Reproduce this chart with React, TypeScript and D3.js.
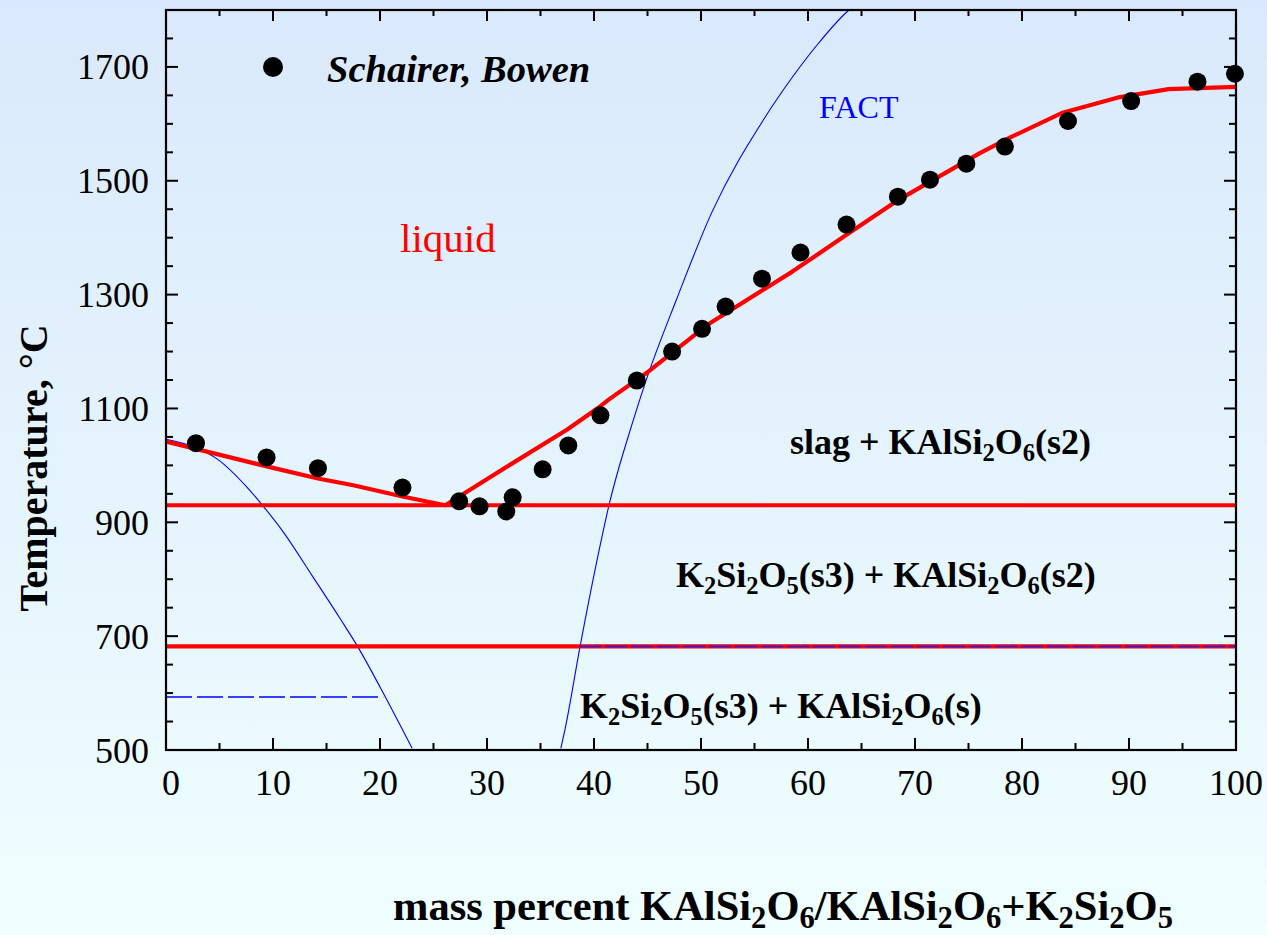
import React from "react";
import * as d3 from "d3";

// Experimental liquidus points (Schairer & Bowen): mass % KAlSi2O6, T in °C
const expX = [2.8, 9.4, 14.2, 22.1, 27.4, 29.3, 31.8, 32.4, 35.2, 37.6, 40.6, 44.0, 47.3, 50.1, 52.3, 55.7, 59.3, 63.6, 68.4, 71.4, 74.8, 78.4, 84.3, 90.2, 96.4, 99.9];
const expT = [1039, 1014, 995, 961, 937, 928, 919, 944, 993, 1035, 1088, 1149, 1200, 1240, 1279, 1328, 1374, 1423, 1472, 1502, 1530, 1560, 1605, 1640, 1674, 1688];

// Assessed liquidus (red)
const liqX = [0, 9.9, 14.2, 17.5, 22.2, 26.1, 32.4, 37.5, 40.6, 41.4, 45.1, 50.6, 58.5, 63.6, 68.5, 76.1, 79.0, 83.7, 88.9, 93.7, 100];
const liqT = [1042, 996, 977, 965, 945, 930, 1004, 1063, 1104, 1116, 1165, 1247, 1340, 1405, 1467, 1549, 1577, 1619, 1646, 1661, 1665];

// Invariant temperatures (red horizontals)
const eutecticT = 930;
const transitionT = 682;

// FACT calculation (blue)
const factLeftX = [0, 2.7, 4.8, 7.6, 9.1, 11.0, 13.7, 16.3, 17.9, 20.5, 23.0];
const factLeftT = [1046, 1032, 1011, 961, 928, 882, 805, 730, 682, 593, 503];
const factRightX = [36.9, 37.3, 38.7, 40.3, 41.4, 43.6, 44.9, 47.7, 51.0, 56.0, 58.5, 61.0, 63.6, 64.5];
const factRightT = [503, 537, 682, 835, 930, 1075, 1151, 1291, 1444, 1612, 1681, 1742, 1796, 1810];
const factDashLeft = { x0: 0, x1: 20.3, t: 593 };
const factDashRight = { x0: 38.6, x1: 100, t: transitionT };

const xMajor = [0, 10, 20, 30, 40, 50, 60, 70, 80, 90, 100];
const yMajor = [500, 700, 900, 1100, 1300, 1500, 1700];

type Seg = { t: string; sub?: boolean };
const kalsi2o6: Seg[] = [{ t: "KAlSi" }, { t: "2", sub: true }, { t: "O" }, { t: "6", sub: true }];
const k2si2o5: Seg[] = [{ t: "K" }, { t: "2", sub: true }, { t: "Si" }, { t: "2", sub: true }, { t: "O" }, { t: "5", sub: true }];

const regionLabels: { x: number; y: number; segs: Seg[] }[] = [
  { x: 790, y: 454, segs: [{ t: "slag + " }, ...kalsi2o6, { t: "(s2)" }] },
  { x: 676, y: 587, segs: [...k2si2o5, { t: "(s3) + " }, ...kalsi2o6, { t: "(s2)" }] },
  { x: 580, y: 718, segs: [...k2si2o5, { t: "(s3) + " }, ...kalsi2o6, { t: "(s)" }] },
];
const xTitle: Seg[] = [{ t: "mass percent " }, ...kalsi2o6, { t: "/" }, ...kalsi2o6, { t: "+" }, ...k2si2o5];

function Chem({ segs, x, y, size, subShift, subScale }: { segs: Seg[]; x: number; y: number; size: number; subShift: number; subScale: number }) {
  let prevSub = false;
  return (
    <text x={x} y={y} fontSize={size} fontWeight="bold" fontFamily="'Liberation Serif', 'Times New Roman', serif" fill="#000">
      {segs.map((s, i) => {
        const dy = s.sub && !prevSub ? subShift : !s.sub && prevSub ? -subShift : 0;
        prevSub = !!s.sub;
        return (
          <tspan key={i} dy={dy} fontSize={s.sub ? size * subScale : size}>
            {s.t.replace(/ /g, "\u00a0")}
          </tspan>
        );
      })}
    </text>
  );
}

export default function App() {
  const W = 1267, H = 935;
  const x = d3.scaleLinear().domain([0, 100]).range([166, 1236]);
  const y = d3.scaleLinear().domain([500, 1800]).range([750, 10]);
  const [x0, x1] = x.range();
  const [yb, yt] = y.range();

  const line = d3.line<[number, number]>().x((d) => x(d[0])).y((d) => y(d[1]));
  const smooth = d3.line<[number, number]>().x((d) => x(d[0])).y((d) => y(d[1])).curve(d3.curveMonotoneX);

  const liq = liqX.map((v, i) => [v, liqT[i]] as [number, number]);
  const fL = factLeftX.map((v, i) => [v, factLeftT[i]] as [number, number]);
  const fR = factRightX.map((v, i) => [v, factRightT[i]] as [number, number]);

  const xMinor = d3.range(5, 100, 10);
  const yMinor = d3.range(500, 1800, 50).filter((v) => !yMajor.includes(v));
  const serif = "'Liberation Serif', 'Times New Roman', serif";

  return (
    <svg width={W} height={H} style={{ position: "absolute", left: 0, top: 0, display: "block" }}>
      <defs>
        <linearGradient id="bg" x1="0" y1="0" x2="0" y2="1">
          <stop offset="0" stopColor="#d9e9fb" />
          <stop offset="1" stopColor="#effefe" />
        </linearGradient>
        <clipPath id="plot">
          <rect x={x0} y={yt} width={x1 - x0} height={yb - yt} />
        </clipPath>
      </defs>
      <rect x={0} y={0} width={W} height={H} fill="url(#bg)" />

      <g clipPath="url(#plot)">
        {/* FACT curves */}
        <path d={smooth(fL) || ""} fill="none" stroke="#0000ff" strokeWidth={1.1} />
        <path d={smooth(fR) || ""} fill="none" stroke="#0000ff" strokeWidth={1.1} />
        <line x1={x(factDashLeft.x0)} x2={x(factDashLeft.x1)} y1={y(factDashLeft.t)} y2={y(factDashLeft.t)} stroke="#0000ff" strokeWidth={1.4} strokeDasharray="26,5" />

        {/* Invariants and liquidus */}
        <line x1={x0} x2={x1} y1={y(eutecticT)} y2={y(eutecticT)} stroke="#ff0000" strokeWidth={4.2} />
        <line x1={x0} x2={x1} y1={y(transitionT)} y2={y(transitionT)} stroke="#ff0000" strokeWidth={4.2} />
        <line x1={x(factDashRight.x0)} x2={x(factDashRight.x1)} y1={y(factDashRight.t)} y2={y(factDashRight.t)} stroke="#2222ee" strokeWidth={1.6} strokeDasharray="22,4" />
        <path d={line(liq) || ""} fill="none" stroke="#ff0000" strokeWidth={4.2} strokeLinejoin="round" />
      </g>

      {/* Experimental points */}
      {expX.map((v, i) => (
        <circle key={i} cx={x(v)} cy={y(expT[i])} r={9} fill="#000" />
      ))}

      {/* Frame */}
      <rect x={x0} y={yt} width={x1 - x0} height={yb - yt} fill="none" stroke="#000" strokeWidth={2.2} />

      {/* Ticks */}
      <g stroke="#000" strokeWidth={2}>
        {xMajor.map((v) => (
          <g key={"xm" + v}>
            <line x1={x(v)} x2={x(v)} y1={yb} y2={yb - 12} />
            <line x1={x(v)} x2={x(v)} y1={yt} y2={yt + 11} />
          </g>
        ))}
        {xMinor.map((v) => (
          <g key={"xn" + v}>
            <line x1={x(v)} x2={x(v)} y1={yb} y2={yb - 7} />
            <line x1={x(v)} x2={x(v)} y1={yt} y2={yt + 6} />
          </g>
        ))}
        {yMajor.map((v) => (
          <g key={"ym" + v}>
            <line x1={x0} x2={x0 + 12} y1={y(v)} y2={y(v)} />
            <line x1={x1} x2={x1 - 12} y1={y(v)} y2={y(v)} />
          </g>
        ))}
        {yMinor.map((v) => (
          <g key={"yn" + v}>
            <line x1={x0} x2={x0 + 7} y1={y(v)} y2={y(v)} />
            <line x1={x1} x2={x1 - 7} y1={y(v)} y2={y(v)} />
          </g>
        ))}
      </g>

      {/* Tick labels */}
      <g fontFamily={serif} fontSize={36} fill="#000">
        {xMajor.map((v) => (
          <text key={"xl" + v} x={x(v) + (v === 0 ? 5 : 0)} y={795} textAnchor="middle">
            {v}
          </text>
        ))}
        {yMajor.map((v) => (
          <text key={"yl" + v} x={149} y={y(v) + 12.5} textAnchor="end">
            {v}
          </text>
        ))}
      </g>

      {/* Axis titles */}
      <text transform="translate(47,468) rotate(-90)" textAnchor="middle" fontFamily={serif} fontWeight="bold" fontSize={40} fill="#000">
        Temperature, °C
      </text>
      <Chem segs={xTitle} x={393} y={920} size={42.5} subShift={8} subScale={0.72} />

      {/* Legend */}
      <circle cx={273} cy={67} r={10} fill="#000" />
      <text x={327} y={82} fontFamily={serif} fontWeight="bold" fontStyle="italic" fontSize={38.5} fill="#000">
        Schairer, Bowen
      </text>

      {/* Annotations */}
      <text x={819} y={118} fontFamily={serif} fontSize={32} fill="#0000ff">FACT</text>
      <text x={400} y={252} fontFamily={serif} fontSize={41} fill="#ff0000">liquid</text>
      {regionLabels.map((l, i) => (
        <Chem key={i} segs={l.segs} x={l.x} y={l.y} size={36} subShift={7} subScale={0.68} />
      ))}
    </svg>
  );
}
